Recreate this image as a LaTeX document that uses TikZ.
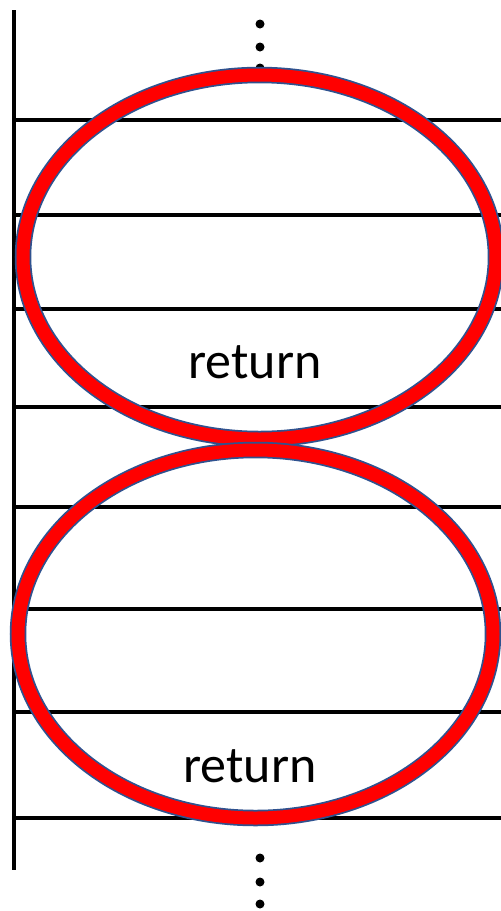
\documentclass[tikz,border=0pt]{standalone}
\usepackage{fontspec}
\setmainfont{Carlito}
\definecolor{ringblue}{RGB}{47,82,143}
\definecolor{ringred}{RGB}{255,0,0}
\begin{document}
\begin{tikzpicture}[x=1pt,y=-1pt,
  rail/.style={line width=4.5pt,black},
  dotmark/.style={fill=black,draw=none},
  ringout/.style={line width=16.5pt,ringblue},
  ringin/.style={line width=13pt,ringred},
  label/.style={font=\fontsize{52}{62}\selectfont,inner sep=0pt,anchor=base}]
\useasboundingbox (0,0) rectangle (501,911);
% horizontal rows
\foreach \yy in {120,215,309,407,507,609,712,818}
  \draw[rail] (14,\yy) -- (501,\yy);
% vertical rail
\draw[rail] (14,10) -- (14,870);
% dots
\foreach \yy in {24,47,68,858,882,904}
  \fill[dotmark] (260,\yy) circle (4.5);
% ellipses
\coordinate (c1) at (259.5,257);
\coordinate (c2) at (255.5,634);
\draw[ringout] (c1) ellipse [x radius=236.5, y radius=182];
\draw[ringin] (c1) ellipse [x radius=236.5, y radius=182];
\draw[ringout] (c2) ellipse [x radius=237.5, y radius=184];
\draw[ringin] (c2) ellipse [x radius=237.5, y radius=184];
% labels
\node[label] (r1) at (255,378) {return};
\node[label] (r2) at (250,782) {return};
\end{tikzpicture}
\end{document}
